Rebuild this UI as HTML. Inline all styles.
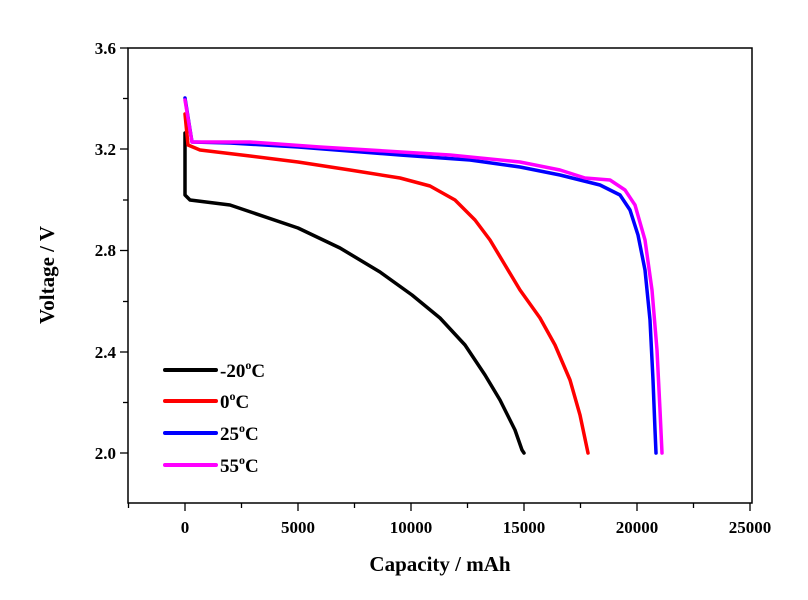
<!DOCTYPE html><html><head><style>body{margin:0;background:#fff}svg{display:block}text{font-family:"Liberation Serif",serif;font-weight:bold;fill:#000}</style></head><body>
<svg width="808" height="600" viewBox="0 0 808 600">
<rect x="128" y="48" width="624" height="455" fill="none" stroke="#000" stroke-width="1.5"/>
<g stroke="#000" stroke-width="1.3">
<line x1="120" y1="48" x2="128" y2="48"/><line x1="123" y1="98.5" x2="128" y2="98.5"/>
<line x1="120" y1="149" x2="128" y2="149"/><line x1="123" y1="200" x2="128" y2="200"/>
<line x1="120" y1="250.5" x2="128" y2="250.5"/><line x1="123" y1="301.5" x2="128" y2="301.5"/>
<line x1="120" y1="352" x2="128" y2="352"/><line x1="123" y1="402.5" x2="128" y2="402.5"/>
<line x1="120" y1="453" x2="128" y2="453"/>
<line x1="128.5" y1="503" x2="128.5" y2="508"/><line x1="185" y1="503" x2="185" y2="511"/>
<line x1="241.5" y1="503" x2="241.5" y2="508"/><line x1="298" y1="503" x2="298" y2="511"/>
<line x1="354.5" y1="503" x2="354.5" y2="508"/><line x1="411" y1="503" x2="411" y2="511"/>
<line x1="467.5" y1="503" x2="467.5" y2="508"/><line x1="524" y1="503" x2="524" y2="511"/>
<line x1="580.5" y1="503" x2="580.5" y2="508"/><line x1="637" y1="503" x2="637" y2="511"/>
<line x1="693.5" y1="503" x2="693.5" y2="508"/><line x1="750" y1="503" x2="750" y2="511"/>
</g>
<g font-size="17" text-anchor="end">
<text x="116" y="54">3.6</text><text x="116" y="155">3.2</text><text x="116" y="256">2.8</text><text x="116" y="358">2.4</text><text x="116" y="459">2.0</text>
</g>
<g font-size="17" text-anchor="middle">
<text x="185" y="533">0</text><text x="298" y="533">5000</text><text x="411" y="533">10000</text><text x="524" y="533">15000</text><text x="637" y="533">20000</text><text x="750" y="533">25000</text>
</g>
<text x="440" y="571" font-size="21" text-anchor="middle">Capacity / mAh</text>
<text transform="translate(54,275) rotate(-90)" font-size="21" text-anchor="middle">Voltage / V</text>
<g fill="none" stroke-width="3.5" stroke-linejoin="round" stroke-linecap="round">
<polyline stroke="#000" points="185,133 185,195 190,200 230,205 298,228 340,248 380,272 412,295 440,318 465,345 485,375 500,400 515,430 522,450 524,453"/>
<polyline stroke="#f00" points="185,114 188,145 200,150 250,156 298,162 350,170 400,178 430,186 455,200 475,220 490,240 505,265 520,290 540,318 555,345 570,380 580,415 588,453"/>
<polyline stroke="#00f" points="185,98 192,142 230,143 298,147 400,155 470,160 520,167 560,175 600,185 620,195 630,210 638,235 645,270 650,320 653,380 655,430 656,453"/>
<polyline stroke="#f0f" points="185,100 192,142 250,142 320,147 450,155 520,162 560,170 585,178 610,180 625,190 635,205 645,240 652,290 657,350 660,410 662,453"/>
</g>
<g stroke-width="4" stroke-linecap="round">
<line x1="165" y1="370" x2="216" y2="370" stroke="#000"/>
<line x1="165" y1="401" x2="216" y2="401" stroke="#f00"/>
<line x1="165" y1="433" x2="216" y2="433" stroke="#00f"/>
<line x1="165" y1="465" x2="216" y2="465" stroke="#f0f"/>
</g>
<g font-size="19">
<text x="220" y="377">-20<tspan font-size="12" dy="-8">o</tspan><tspan dy="8">C</tspan></text>
<text x="220" y="408">0<tspan font-size="12" dy="-8">o</tspan><tspan dy="8">C</tspan></text>
<text x="220" y="440">25<tspan font-size="12" dy="-8">o</tspan><tspan dy="8">C</tspan></text>
<text x="220" y="472">55<tspan font-size="12" dy="-8">o</tspan><tspan dy="8">C</tspan></text>
</g>
</svg></body></html>
